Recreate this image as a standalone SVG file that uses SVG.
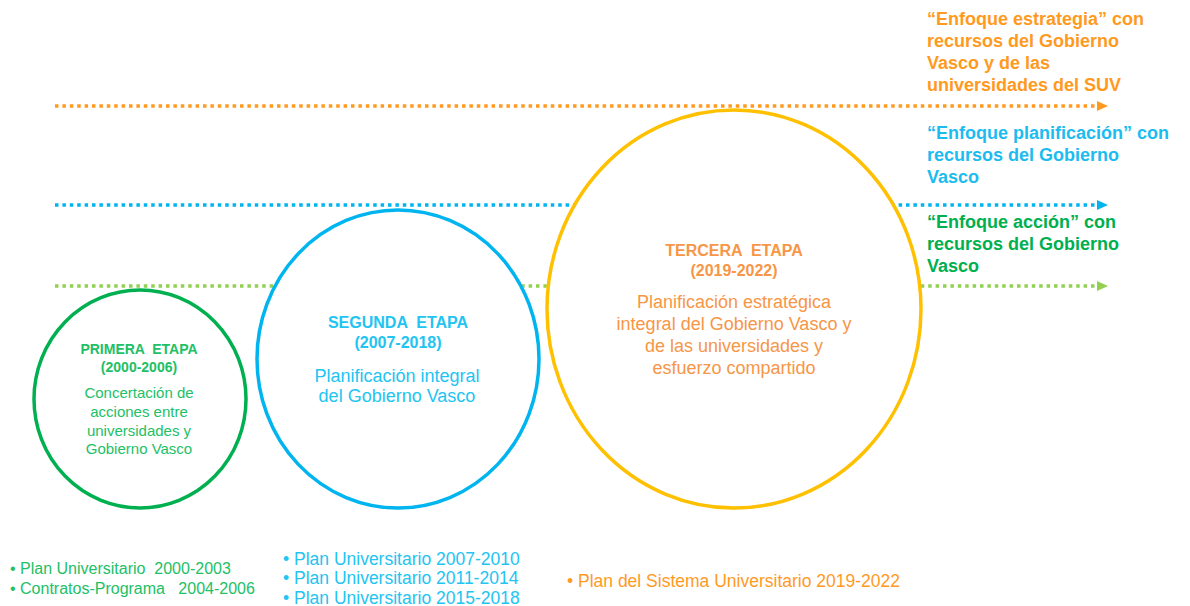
<svg xmlns="http://www.w3.org/2000/svg" width="1190" height="606" viewBox="0 0 1190 606">
<defs>
<style>
text{font-family:"Liberation Sans",Arial,sans-serif}
.b{font-weight:bold}
.dot{fill:none;stroke-width:3.5;stroke-dasharray:3.5 3.9}
.ring{fill:#fff;stroke-width:3.5}
.mid{text-anchor:middle}
</style>
<marker id="aO" markerWidth="11" markerHeight="10" refX="0" refY="5" orient="auto" markerUnits="userSpaceOnUse"><path d="M0,0 L11,5 L0,10 Z" fill="#ff9a1f"/></marker>
<marker id="aB" markerWidth="11" markerHeight="10" refX="0" refY="5" orient="auto" markerUnits="userSpaceOnUse"><path d="M0,0 L11,5 L0,10 Z" fill="#00b4f0"/></marker>
<marker id="aG" markerWidth="11" markerHeight="10" refX="0" refY="5" orient="auto" markerUnits="userSpaceOnUse"><path d="M0,0 L11,5 L0,10 Z" fill="#92d050"/></marker>
</defs>
<rect width="1190" height="606" fill="#fff"/>
<g id="connectors">
<line class="dot" x1="55" y1="106" x2="1097" y2="106" stroke="#ff9a1f" marker-end="url(#aO)"/>
<line class="dot" x1="55" y1="205" x2="1097" y2="205" stroke="#00b4f0" marker-end="url(#aB)"/>
<line class="dot" x1="55" y1="286" x2="1097" y2="286" stroke="#92d050" marker-end="url(#aG)"/>
</g>
<g id="label-estrategia" class="b" font-size="18" fill="#ff9a1f">
<text x="927" y="25">“Enfoque estrategia” con</text>
<text x="927" y="47">recursos del Gobierno</text>
<text x="927" y="69">Vasco y de las</text>
<text x="927" y="91">universidades del SUV</text>
</g>
<g id="label-planificacion" class="b" font-size="18" fill="#1cbcf0">
<text x="927" y="139">“Enfoque planificación” con</text>
<text x="927" y="161">recursos del Gobierno</text>
<text x="927" y="183">Vasco</text>
</g>
<g id="label-accion" class="b" font-size="18" fill="#00b050">
<text x="927" y="228">“Enfoque acción” con</text>
<text x="927" y="250">recursos del Gobierno</text>
<text x="927" y="272">Vasco</text>
</g>
<g id="primera-etapa">
<ellipse class="ring" cx="140" cy="399" rx="106" ry="109" stroke="#00b050"/>
<g class="mid" fill="#22c066">
<text class="b" x="139" y="354" font-size="14" xml:space="preserve">PRIMERA  ETAPA</text>
<text class="b" x="139" y="372" font-size="14">(2000-2006)</text>
<text x="139" y="398" font-size="15">Concertación de</text>
<text x="139" y="417" font-size="15">acciones entre</text>
<text x="139" y="436" font-size="15">universidades y</text>
<text x="139" y="454" font-size="15">Gobierno Vasco</text>
</g>
</g>
<g id="segunda-etapa">
<ellipse class="ring" cx="398" cy="359" rx="141" ry="149" stroke="#00b4f0"/>
<g class="mid" fill="#22c4f2">
<text class="b" x="398" y="328" font-size="16" xml:space="preserve">SEGUNDA  ETAPA</text>
<text class="b" x="398" y="348" font-size="16">(2007-2018)</text>
<text x="397" y="382" font-size="18">Planificación integral</text>
<text x="397" y="402" font-size="18">del Gobierno Vasco</text>
</g>
</g>
<g id="tercera-etapa">
<ellipse class="ring" cx="734" cy="309" rx="187" ry="199" stroke="#ffc000"/>
<g class="mid" fill="#f79646">
<text class="b" x="734" y="256" font-size="16" xml:space="preserve">TERCERA  ETAPA</text>
<text class="b" x="734" y="276" font-size="16">(2019-2022)</text>
<text x="734" y="308" font-size="18">Planificación estratégica</text>
<text x="734" y="330" font-size="18">integral del Gobierno Vasco y</text>
<text x="734" y="352" font-size="18">de las universidades y</text>
<text x="734" y="374" font-size="18">esfuerzo compartido</text>
</g>
</g>
<g id="planes-primera" font-size="16" fill="#22c066">
<text x="10" y="574" xml:space="preserve">• Plan Universitario  2000-2003</text>
<text x="10" y="594" xml:space="preserve">• Contratos-Programa   2004-2006</text>
</g>
<g id="planes-segunda" font-size="17.5" fill="#22c4f2">
<text x="283" y="565">• Plan Universitario 2007-2010</text>
<text x="283" y="584">• Plan Universitario 2011-2014</text>
<text x="283" y="604">• Plan Universitario 2015-2018</text>
</g>
<g id="planes-tercera" font-size="17.5" fill="#ff9a1f">
<text x="567" y="587">• Plan del Sistema Universitario 2019-2022</text>
</g>
</svg>
